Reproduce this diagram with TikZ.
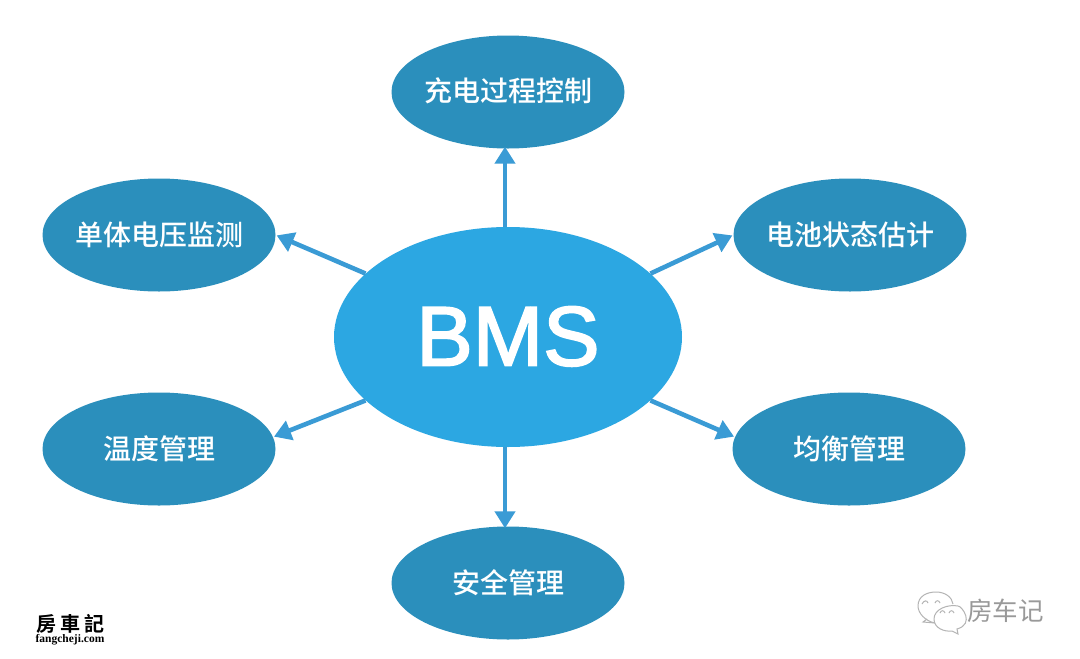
\documentclass[tikz,border=0pt]{standalone}
\usepackage{fontspec}
\setmainfont{Liberation Sans}
\newfontfamily\hubfont{Liberation Sans}[FakeBold=2.2]
\newfontfamily\cjk{Noto Sans CJK SC Medium}
\newfontfamily\cjkplain{Noto Sans CJK SC}
\newfontfamily\cjktc{Noto Sans CJK TC}[BoldFont={* Bold}]
\newfontfamily\wmlatin{Liberation Serif}
\usetikzlibrary{shapes.geometric,arrows.meta}
\definecolor{hub}{HTML}{2CA7E2}
\definecolor{leaf}{HTML}{2B8FBC}
\definecolor{link}{HTML}{3A9BD5}
\definecolor{wm}{HTML}{B4B4B4}
\newcommand{\zw}[2][0pt]{\makebox[0pt]{\raisebox{#1}{#2}}}
\tikzset{
  hubnode/.style={ellipse,fill=hub,inner sep=0pt,minimum width=348pt,minimum height=220pt,text=white,font=\hubfont\fontsize{84.5}{85}\selectfont},
  leafnode/.style={ellipse,fill=leaf,inner sep=0pt,minimum width=233pt,minimum height=113pt,text=white,font=\cjk\fontsize{28}{28}\selectfont},
  linkline/.style={draw=link,line width=4.6pt,-{Triangle[length=17pt,width=20pt]}},
  wmbubble/.style={draw=wm,line width=1pt,fill=white},
}
\begin{document}
\begin{tikzpicture}[x=1pt,y=-1pt]
\useasboundingbox (0,0) rectangle (1080,659);
\fill[white] (0,0) rectangle (1080,659);
\node[hubnode] (bms) at (508,337) {\zw[2pt]{BMS}};
\node[leafnode] (charge) at (508,92) {\zw[5pt]{充电过程控制}};
\node[leafnode] (cell) at (159,235) {\zw{单体电压监测}};
\node[leafnode] (soc) at (850,235) {\zw{电池状态估计}};
\node[leafnode] (temp) at (159,449) {\zw{温度管理}};
\node[leafnode] (bal) at (849,449) {\zw{均衡管理}};
\node[leafnode] (safe) at (508,583) {\zw[1pt]{安全管理}};
\draw[linkline] ([xshift=-3pt]bms.north) -- ([xshift=-3pt,yshift=2pt]charge.south);
\draw[linkline,shorten >=1pt] (bms.156) -- (cell.east);
\draw[linkline,shorten >=1pt] (bms.24.5) -- (soc.west);
\draw[linkline,shorten >=1pt] (bms.204) -- (temp.6);
\draw[linkline,shorten >=1pt] (bms.336) -- (bal.174);
\draw[linkline] ([xshift=-3pt]bms.south) -- ([xshift=-3pt,yshift=-2pt]safe.north);
% watermark, lower left
\node[font=\cjktc\bfseries\fontsize{20}{22}\selectfont,inner sep=0pt,text=black] (wmleft) at (70,623.5) {房\kern4pt 車\kern4pt 記};
\node[font=\wmlatin\bfseries\fontsize{11.5}{12}\selectfont,inner sep=0pt,text=black] (wmsite) at (70,640) {fangcheji.com};
% watermark, lower right
\draw[wmbubble] (935,623) .. controls (925,621) and (918,613) .. (918,606) .. controls (918,596) and (927,592) .. (936,592) .. controls (945,592) and (952,597) .. (953,604);
\draw[wm,line width=1pt] (927,619) -- (923,622) -- (935,623);
\draw[wmbubble] (958,606) .. controls (948,604) and (934,609) .. (934,619) .. controls (934,628) and (944,632) .. (952,631) -- (958,634) -- (957,629) .. controls (975,624) and (962,606) .. (958,606) -- cycle;
\draw[wm,line width=1pt] (922,604) .. controls (924,600) and (927,600) .. (928,603);
\draw[wm,line width=1pt] (935,603) .. controls (936,600) and (939,600) .. (940,603);
\draw[wm,line width=1pt] (940,613) .. controls (941,610) and (944,610) .. (945,613);
\draw[wm,line width=1pt] (949,613) .. controls (950,610) and (953,610) .. (954,613);
\node[font=\cjkplain\fontsize{25.5}{26}\selectfont,inner sep=0pt,text=wm!85!black] (wmright) at (1005.5,611) {房车记};
\end{tikzpicture}
\end{document}
